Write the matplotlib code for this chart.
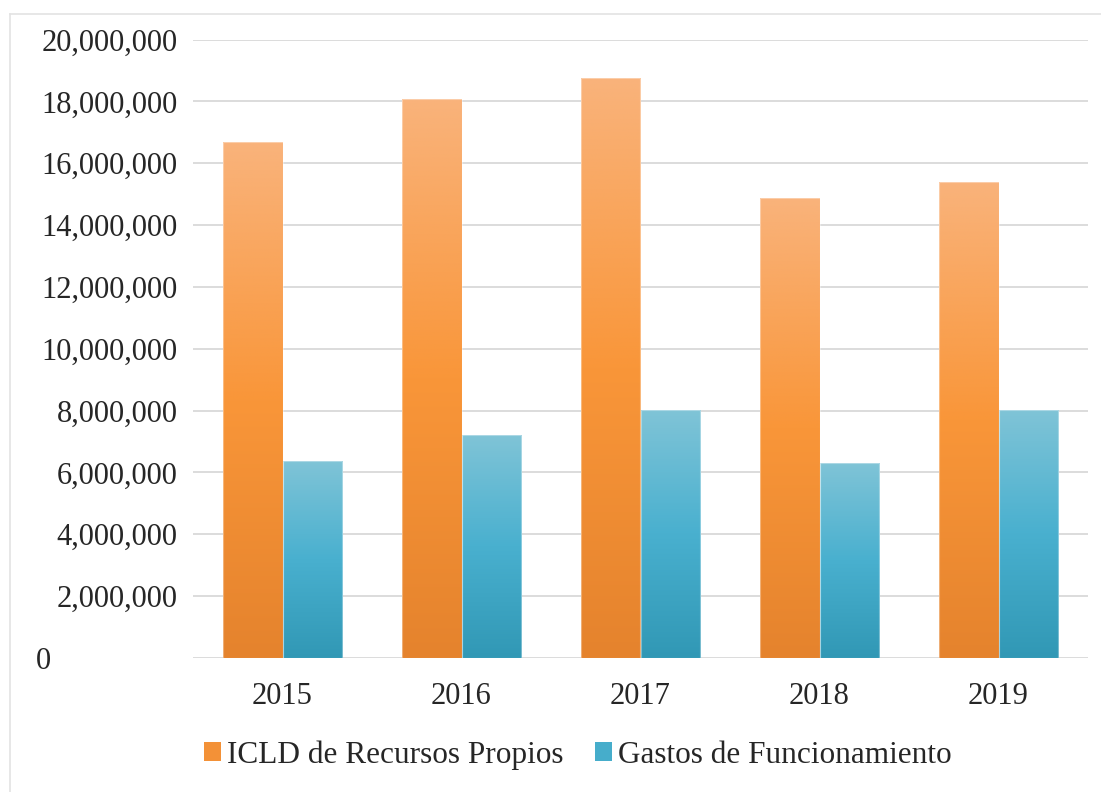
import matplotlib
matplotlib.use("Agg")
import matplotlib.pyplot as plt
import numpy as np
from matplotlib.colors import LinearSegmentedColormap
from matplotlib.patches import Rectangle
from matplotlib.lines import Line2D
from matplotlib.ticker import FuncFormatter
from matplotlib.transforms import blended_transform_factory

years = ["2015", "2016", "2017", "2018", "2019"]
icld = [16670000, 18090000, 18740000, 14890000, 15400000]
gastos = [6380000, 7220000, 8030000, 6310000, 8030000]
series_names = ["ICLD de Recursos Propios", "Gastos de Funcionamiento"]

plt.rcParams['font.family'] = ['Liberation Serif', 'DejaVu Serif']

W, H = 1101, 792
fig = plt.figure(figsize=(W / 100, H / 100), dpi=100)
ax = fig.add_axes([193 / W, (H - 658) / H, (1088 - 193) / W, (658 - 39.5) / H])

orange_cmap = LinearSegmentedColormap.from_list(
    "og", [(0, "#E5832D"), (0.5, "#F99639"), (1, "#F9B37B")])
blue_cmap = LinearSegmentedColormap.from_list(
    "bg", [(0, "#3198B5"), (0.5, "#49B0CF"), (1, "#80C4D7")])

x = np.arange(len(years))
w = 1 / 3
b1 = ax.bar(x - w / 2, icld, w, facecolor="none", edgecolor="none", zorder=3)
b2 = ax.bar(x + w / 2, gastos, w, facecolor="none", edgecolor="none", zorder=3)

grad = np.linspace(0, 1, 256).reshape(-1, 1)
for bars, cmap in ((b1, orange_cmap), (b2, blue_cmap)):
    for p in bars:
        x0, y0 = p.get_x(), p.get_y()
        x1, y1 = x0 + p.get_width(), y0 + p.get_height()
        im = ax.imshow(grad, cmap=cmap, origin="lower", aspect="auto",
                       extent=(x0, x1, y0, y1), zorder=3, interpolation="bilinear")
        im.set_clip_path(p)
        ax.add_patch(Rectangle((x0, y0), x1 - x0, y1 - y0, facecolor="none",
                               edgecolor=(1, 1, 1, 0.35), linewidth=0.8, zorder=4))

ax.set_xlim(-0.5, len(years) - 0.5)
ax.set_ylim(0, 20000000)
ax.set_yticks(np.arange(0, 20000001, 2000000))
ax.yaxis.set_major_formatter(FuncFormatter(lambda v, p: f"{int(v):,}" if v != 0 else ""))
ax.set_xticks(x)
ax.set_xticklabels(years)
ax.grid(axis="y", color="#D9D9D9", linewidth=1.3, zorder=0)
ax.set_axisbelow(True)
for s in ax.spines.values():
    s.set_visible(False)
ax.tick_params(axis="both", length=0, labelsize=22, labelcolor="#262626")
ax.tick_params(axis="y", pad=11)
ax.tick_params(axis="x", pad=17)

# zero label sits at the far left in the reference
trans = blended_transform_factory(fig.transFigure, ax.transData)
fig.text(36 / W, 0, "0", transform=trans, ha="left", va="center_baseline",
         fontsize=22, color="#262626")

# figure border (light grey)
fig.add_artist(Line2D([10 / W, 10 / W], [0, (H - 14) / H], color="#E3E3E3", lw=1.2,
                      transform=fig.transFigure))
fig.add_artist(Line2D([10 / W, 1.0], [(H - 14) / H, (H - 14) / H], color="#E3E3E3", lw=1.2,
                      transform=fig.transFigure))

handles = [Rectangle((0, 0), 1, 1, facecolor="#F39137", edgecolor="none"),
           Rectangle((0, 0), 1, 1, facecolor="#46ADCB", edgecolor="none")]
fig.legend(handles, series_names, loc="center", bbox_to_anchor=(578 / W, (H - 755) / H),
           ncol=2, frameon=False, fontsize=22.5, handlelength=0.55, handleheight=0.55,
           handletextpad=0.2, columnspacing=1.0, labelcolor="#262626")

fig.savefig("out.png", dpi=100)
